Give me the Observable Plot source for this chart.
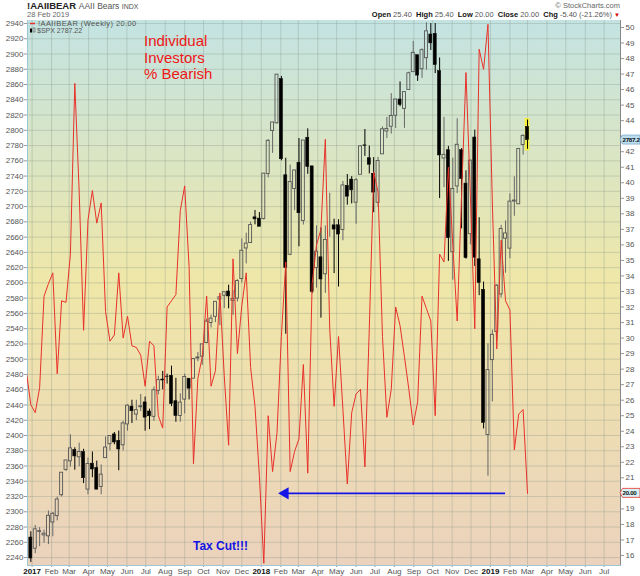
<!DOCTYPE html>
<html>
<head>
<meta charset="utf-8">
<script src="https://cdn.jsdelivr.net/npm/d3@7"></script>
<script src="https://cdn.jsdelivr.net/npm/@observablehq/plot@0.6"></script>
<style>
  body { margin: 0; background: #fff; }
  #chart svg { display: block; }
</style>
</head>
<body>
<div id="chart"></div>
<script>
// S&P 500 semanal (velas), primera semana termina el 30-dic-2016
const spxStart = "2016-12-30"
const spxOpen = [
  2266.2, 2251.6, 2273.6, 2269.1, 2267.8, 2286.0, 2294.3, 2321.7, 2354.9, 2366.1,
  2381.0, 2371.4, 2378.2, 2329.1, 2363.0, 2357.2, 2332.6, 2370.3, 2388.5, 2401.4,
  2393.0, 2387.2, 2414.5, 2437.8, 2427.4, 2437.0, 2443.3, 2431.4, 2424.5, 2458.3,
  2473.3, 2477.1, 2478.2, 2444.9, 2425.5, 2447.0, 2474.4, 2474.5, 2501.0, 2503.3,
  2521.2, 2547.4, 2555.6, 2578.1, 2583.2, 2588.7, 2576.5, 2579.5, 2605.0, 2645.1,
  2652.2, 2685.9, 2684.2, 2683.7, 2742.7, 2799.0, 2809.2, 2867.2, 2741.1, 2636.8,
  2723.0, 2757.4, 2681.1, 2790.2, 2752.7, 2619.4, 2633.5, 2611.3, 2670.1, 2675.4,
  2675.5, 2669.4, 2727.1, 2735.4, 2705.1, 2741.7, 2780.2, 2763.4, 2742.9, 2705.0,
  2768.5, 2798.4, 2804.6, 2819.0, 2840.3, 2828.1, 2852.9, 2876.2, 2898.4, 2880.0,
  2894.5, 2925.5, 2926.3, 2877.5, 2763.0, 2773.9, 2640.2, 2726.4, 2773.9, 2730.1,
  2663.8, 2790.5, 2630.9, 2590.8, 2400.6, 2498.8, 2535.6, 2584.9, 2657.9, 2644.9,
  2706.6, 2703.0, 2780.7, 2804.4
]
const spxHigh = [
  2273.8, 2282.1, 2279.3, 2276.1, 2301.0, 2299.0, 2319.2, 2351.3, 2367.3, 2401.0,
  2383.9, 2390.0, 2381.9, 2370.4, 2378.4, 2366.4, 2361.4, 2398.2, 2399.3, 2403.9,
  2405.8, 2418.7, 2440.2, 2446.2, 2446.2, 2453.8, 2450.4, 2434.6, 2463.5, 2477.6,
  2484.0, 2480.4, 2490.9, 2474.9, 2454.8, 2480.4, 2474.5, 2500.2, 2508.8, 2519.4,
  2552.5, 2557.7, 2575.4, 2583.0, 2588.4, 2597.0, 2590.1, 2604.2, 2657.7, 2665.2,
  2679.6, 2695.0, 2692.1, 2743.5, 2787.9, 2810.3, 2872.9, 2870.6, 2763.4, 2754.4,
  2747.8, 2789.2, 2786.6, 2801.9, 2752.7, 2674.8, 2672.1, 2674.7, 2717.5, 2683.6,
  2682.9, 2732.9, 2742.1, 2739.2, 2736.9, 2779.9, 2801.0, 2779.4, 2764.2, 2764.4,
  2804.5, 2816.8, 2848.0, 2840.4, 2863.4, 2850.5, 2876.2, 2916.5, 2898.4, 2906.8,
  2940.9, 2939.9, 2939.9, 2894.8, 2816.9, 2778.9, 2763.5, 2815.2, 2776.0, 2746.8,
  2760.9, 2800.2, 2685.4, 2601.1, 2520.3, 2538.1, 2597.8, 2675.5, 2681.2, 2716.7,
  2739.0, 2775.7, 2794.2, 2813.5
]
const spxLow = [
  2233.6, 2245.1, 2254.3, 2258.8, 2257.0, 2267.2, 2288.0, 2319.4, 2352.9, 2358.6,
  2354.5, 2358.9, 2336.9, 2322.3, 2344.7, 2329.0, 2322.3, 2370.3, 2379.8, 2387.8,
  2353.8, 2379.8, 2405.7, 2415.7, 2419.4, 2431.3, 2405.7, 2407.7, 2418.5, 2453.3,
  2459.9, 2467.4, 2437.8, 2417.4, 2417.4, 2428.2, 2446.6, 2474.5, 2496.7, 2491.9,
  2520.4, 2541.0, 2547.9, 2544.0, 2566.2, 2566.0, 2557.5, 2575.0, 2600.0, 2624.8,
  2652.2, 2676.1, 2673.6, 2682.4, 2737.6, 2769.8, 2808.1, 2760.0, 2532.7, 2635.7,
  2694.7, 2647.3, 2675.8, 2742.2, 2585.9, 2593.1, 2553.8, 2586.3, 2660.0, 2612.2,
  2594.6, 2655.2, 2701.9, 2703.5, 2676.8, 2741.7, 2765.8, 2742.9, 2692.0, 2699.0,
  2768.5, 2789.2, 2795.1, 2802.3, 2830.9, 2802.5, 2852.9, 2876.2, 2864.1, 2868.0,
  2878.8, 2904.6, 2874.3, 2710.5, 2724.8, 2628.2, 2603.5, 2717.0, 2670.8, 2631.1,
  2649.8, 2621.5, 2583.2, 2408.6, 2346.6, 2444.0, 2524.6, 2580.3, 2612.7, 2631.6,
  2687.3, 2703.0, 2767.5, 2775.1
]
const spxClose = [
  2238.8, 2277.0, 2274.6, 2271.3, 2294.7, 2297.4, 2316.1, 2351.2, 2367.3, 2383.1,
  2372.6, 2378.3, 2344.0, 2362.7, 2355.5, 2329.0, 2348.7, 2384.2, 2399.3, 2390.9,
  2381.7, 2415.8, 2439.1, 2431.8, 2433.2, 2438.3, 2423.4, 2425.2, 2459.3, 2472.5,
  2472.1, 2476.8, 2441.3, 2425.6, 2443.1, 2476.6, 2461.4, 2500.2, 2502.2, 2519.4,
  2549.3, 2553.2, 2575.2, 2581.1, 2587.8, 2582.3, 2578.9, 2602.4, 2642.2, 2651.5,
  2675.8, 2683.3, 2673.6, 2743.2, 2786.2, 2810.3, 2872.9, 2762.1, 2619.6, 2732.2,
  2747.3, 2691.3, 2786.6, 2752.0, 2588.3, 2640.9, 2604.5, 2656.3, 2670.1, 2669.9,
  2663.4, 2727.7, 2713.0, 2721.3, 2734.6, 2779.0, 2779.7, 2754.9, 2718.4, 2759.8,
  2801.3, 2801.8, 2818.8, 2840.4, 2833.3, 2850.1, 2874.7, 2901.5, 2871.7, 2905.0,
  2929.7, 2914.0, 2885.6, 2767.1, 2767.8, 2658.7, 2723.1, 2781.0, 2736.3, 2632.6,
  2760.2, 2633.1, 2600.0, 2416.6, 2485.7, 2531.9, 2596.3, 2670.7, 2664.8, 2706.5,
  2707.9, 2775.6, 2792.7, 2787.2
]

// AAII % bajistas (semanal), primera lectura 23-dic-2016
const bearStart = "2016-12-23"
const bearish = [
  27.8,
  25.7, 25.2, 26.8, 32.7, 33.5, 34.2, 27.7, 32.4, 32.3, 35.4,
  46.4, 39.4, 30.5, 37.6, 39.5, 37.4, 38.7, 31.7, 29.8, 30.2,
  34.2, 30.0, 31.4, 29.5, 29.4, 28.9, 26.9, 29.8, 29.5, 25.0,
  24.2, 32.0, 32.4, 32.8, 38.2, 39.8, 34.6, 21.9, 27.4, 28.8,
  32.7, 26.9, 27.9, 32.9, 27.6, 23.1, 35.1, 29.0, 32.1, 34.2,
  28.1, 25.6, 21.1, 15.5, 25.0, 21.4, 23.9, 30.1, 34.9, 21.4,
  22.7, 23.5, 28.3, 21.3, 33.5, 36.0, 37.0, 42.8, 30.6, 25.6,
  30.1, 25.4, 20.6, 25.2, 26.4, 26.7, 21.7, 30.6, 40.7, 39.4,
  30.1, 24.9, 26.7, 32.0, 30.8, 28.8, 26.7, 24.4, 25.9, 32.7,
  31.9, 31.1, 25.0, 35.4, 34.9, 41.0, 36.0, 31.1, 39.2, 47.1,
  39.2, 30.6, 48.6, 47.3, 50.2, 38.7, 29.3, 36.3, 32.4, 31.8,
  22.8, 25.1, 25.4, 20.0
]

const leftTicks = d3.range(2240, 2941, 20)
const rightTicks = d3.range(16, 51)
const months = d3.utcMonth.range(new Date("2017-01-01"), new Date("2019-08-01"))

// flecha "Tax Cut": del 25-ene-2019 al 8-feb-2018, al nivel 20 %
const arrowFrom = new Date("2019-01-25")
const arrowTo = new Date("2018-02-08")
const arrowLevel = 20

// eje derecho (AAII) alineado con el eje izquierdo (SPX)
const bearToSpx = v => 2934.76 - (50 - v) * 20.354
const spxToBear = p => 50 - (2934.76 - p) / 20.354

const week = (start, i) => d3.utcDay.offset(new Date(start), 7 * i)

const spx = spxClose.map((c, i) => ({
  date: week(spxStart, i), open: spxOpen[i], high: spxHigh[i], low: spxLow[i], close: c
}))
const bear = bearish.map((v, i) => ({ date: week(bearStart, i), value: v }))
const last = spx[spx.length - 1]
const lastBear = bearish[bearish.length - 1]

const down = d => d.close < d.open
const half = h => d => d3.utcHour.offset(d.date, h)

let chart = Plot.plot({
  width: 640,
  height: 576,
  marginTop: 20,
  marginBottom: 11,
  marginLeft: 27,
  marginRight: 20,
  style: { fontFamily: "Liberation Sans, Arial, sans-serif", fontSize: "8px", background: "white", color: "#444" },
  x: { type: "utc", domain: [new Date("2016-12-24T16:00Z"), new Date("2019-07-27T02:00Z")] },
  y: { domain: [2229.6, 2943.9] },
  marks: [
    Plot.gridX(months, { stroke: "#7f8f80", strokeOpacity: 0.3 }),
    Plot.gridY(leftTicks, { stroke: "#7f8f80", strokeOpacity: 0.3 }),
    Plot.axisY(leftTicks, { anchor: "left", tickSize: 3, tickPadding: 1, fontSize: 8, fill: "#555", stroke: "#999", tickFormat: d3.format("d") }),
    Plot.axisY(rightTicks.map(bearToSpx), {
      anchor: "right", tickSize: 3, tickPadding: 2, fontSize: 8, fill: "#555", stroke: "#999",
      tickFormat: p => {
        const v = Math.round(spxToBear(p))
        return v === 43 || v === lastBear ? "" : v
      }
    }),
    Plot.axisX(months.filter(d => d.getUTCMonth() > 0), {
      tickSize: 2, tickPadding: 1, fontSize: 8, fill: "#555", stroke: "#999", tickFormat: d3.utcFormat("%b")
    }),
    Plot.axisX(months.filter(d => d.getUTCMonth() === 0), {
      tickSize: 2, tickPadding: 1, fontSize: 8, fill: "#111", fontWeight: "bold", stroke: "#999", tickFormat: d3.utcFormat("%Y")
    }),
    Plot.frame({ anchor: "left", stroke: "#9cc7d6" }),
    Plot.frame({ anchor: "right", stroke: "#888", strokeDasharray: "1,1" }),
    Plot.frame({ anchor: "bottom", stroke: "#9cc7d6" }),
    // resaltado de la ultima vela
    Plot.rect([last], { x1: half(-90), x2: half(90), y1: d => d.low - 2, y2: d => d.high + 2, fill: "#f4ee3c" }),
    // mechas
    Plot.ruleX(spx, { x: "date", y1: "high", y2: d => Math.max(d.open, d.close), stroke: d => down(d) ? "#000" : "#666" }),
    Plot.ruleX(spx, { x: "date", y1: "low", y2: d => Math.min(d.open, d.close), stroke: d => down(d) ? "#000" : "#666" }),
    // cuerpos
    Plot.rect(spx, { filter: d => !down(d), x1: half(-57), x2: half(57), y1: "open", y2: "close", fill: "none", stroke: "#555", strokeWidth: 0.9 }),
    Plot.rect(spx, { filter: down, x1: half(-57), x2: half(57), y1: "open", y2: "close", fill: "#000", stroke: "#000", strokeWidth: 0.6 }),
    // AAII bajistas
    Plot.line(bear, { x: "date", y: d => bearToSpx(d.value), stroke: "#e8312a", strokeWidth: 1, clip: true }),
    // flecha azul
    Plot.ruleY([bearToSpx(arrowLevel)], { x1: arrowFrom, x2: d3.utcDay.offset(arrowTo, 3), stroke: "#1414e6", strokeWidth: 1.6 }),
    Plot.dot([arrowTo], { x: d => d, y: bearToSpx(arrowLevel), symbol: "triangle", r: 4.5, fill: "#1414e6", rotate: -90 })
  ]
})

const svg = d3.select(chart)
const fx = chart.scale("x"), fy = chart.scale("y")
const [x0, x1] = fx.range
const [yBottom, yTop] = fy.range

// fondo degradado
const grad = svg.append("defs").append("linearGradient")
  .attr("id", "bg").attr("x1", 0).attr("y1", 0).attr("x2", 0).attr("y2", 1)
grad.append("stop").attr("offset", "0%").attr("stop-color", "#c3e3e2")
grad.append("stop").attr("offset", "48%").attr("stop-color", "#efe7a8")
grad.append("stop").attr("offset", "100%").attr("stop-color", "#ebd2bd")
svg.insert("rect", ":first-child")
  .attr("x", x0).attr("y", yTop).attr("width", x1 - x0).attr("height", yBottom - yTop)
  .attr("fill", "url(#bg)")

const txt = (x, y, s, size, attrs = {}) => {
  const t = svg.append("text").attr("x", x).attr("y", y).attr("font-size", size)
    .attr("font-family", "Liberation Sans, Arial, sans-serif").attr("fill", "#333")
    .attr("text-anchor", "start").text(s)
  Object.entries(attrs).forEach(([k, v]) => t.attr(k, v))
  return t
}

// cabecera
const h = txt(27, 9, "", 9.5, { fill: "#222" })
h.append("tspan").attr("font-weight", "bold").text("!AAIIBEAR ")
h.append("tspan").attr("fill", "#555").attr("font-size", 8.5).text("AAII Bears ")
h.append("tspan").attr("fill", "#555").attr("font-size", 7).text("INDX")
txt(27, 17, "28 Feb 2019", 7.5, { fill: "#666" })
txt(620, 8, "© StockCharts.com", 7.5, { fill: "#666", "text-anchor": "end" })

const q = txt(612, 17, "", 7.5, { "text-anchor": "end", fill: "#555" })
;[["Open", "25.40"], ["High", "25.40"], ["Low", "20.00"], ["Close", "20.00"], ["Chg", "-5.40 (-21.26%)"]]
  .forEach(([k, v], i) => {
    q.append("tspan").attr("font-weight", "bold").attr("fill", "#111").text(k + " ")
    q.append("tspan").text(i < 4 ? v + "  " : v)
  })
txt(614, 17, "▼", 6, { fill: "#d00" })

// leyenda
svg.append("line").attr("x1", 30).attr("x2", 35).attr("y1", 23.5).attr("y2", 23.5).attr("stroke", "#e8312a").attr("stroke-width", 1.5)
txt(38, 26, "!AAIIBEAR (Weekly) 20.00", 7.5, { fill: "#555", "letter-spacing": 0.4 })
svg.append("rect").attr("x", 30).attr("y", 28.5).attr("width", 2).attr("height", 4).attr("fill", "#000")
svg.append("rect").attr("x", 33).attr("y", 28).attr("width", 2).attr("height", 4).attr("fill", "none").attr("stroke", "#555").attr("stroke-width", 0.6)
txt(37, 33, "$SPX 2787.22", 7, { fill: "#555" })

// anotaciones
;["Individual", "Investors", "% Bearish"].forEach((s, i) =>
  txt(144, 46 + i * 16.5, s, 15, { fill: "#f01616" }))
txt(193, 550, "Tax Cut!!!", 12, { fill: "#1414e6", "font-weight": "bold" })

// etiquetas de ultimo valor en el eje derecho
const tag = (y, s, fill, stroke) => {
  svg.append("path")
    .attr("d", `M${x1},${y} l2.5,-4.5 h17.5 v9 h-17.5 z`)
    .attr("fill", fill).attr("stroke", stroke).attr("stroke-width", 0.8)
  txt(x1 + 2.5, y + 2.5, s, 6.2, { fill: "#111", "font-weight": "bold", "letter-spacing": -0.3 })
}
tag(fy.apply(last.close), "2787.2", "#bcdff0", "#7aaacc")
tag(fy.apply(bearToSpx(lastBear)), "20.00", "#d8f0f6", "#e8312a")

d3.select("#chart").append(() => chart)
</script>
</body>
</html>
